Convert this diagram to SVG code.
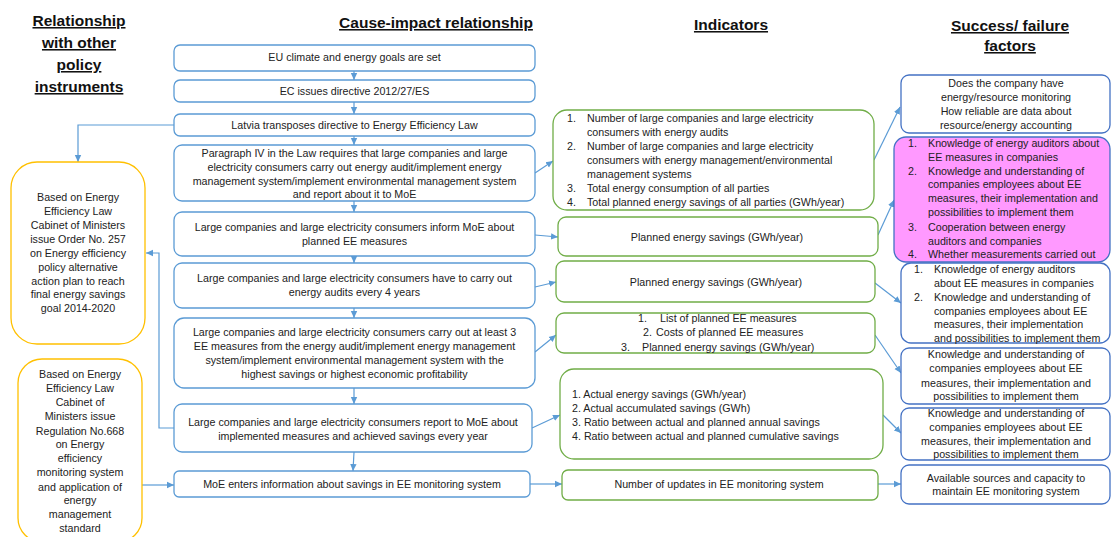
<svg xmlns="http://www.w3.org/2000/svg" width="1112" height="537" viewBox="0 0 1112 537">
  <style>
    text { font-family: "Liberation Sans", Arial, sans-serif; font-size: 10.7px; fill: #222; }
    .h { font-size: 15.5px; font-weight: bold; text-decoration: underline; text-anchor: middle; fill: #111; }
    .c { text-anchor: middle; }
    .cause { fill: #fff; stroke: #5B9BD5; stroke-width: 1.3; }
    .ind { fill: #fff; stroke: #70AD47; stroke-width: 1.3; }
    .fac { fill: #fff; stroke: #4472C4; stroke-width: 1.3; }
    .pink { fill: #FF99FF; stroke: #4472C4; stroke-width: 1.3; }
    .pol { fill: #fff; stroke: #FFC000; stroke-width: 1.3; }
    .conn path { fill: none; stroke: #5B9BD5; stroke-width: 1.2; marker-end: url(#arr); }
  </style>
  <defs>
    <marker id="arr" markerUnits="userSpaceOnUse" markerWidth="8" markerHeight="8" refX="7" refY="4" orient="auto">
      <path d="M0,0.8 L7,4 L0,7.2 Z" fill="#5B9BD5"/>
    </marker>
  </defs>
  <rect width="1112" height="537" fill="#fff"/>

  <!-- column headings -->
  <g id="headings">
    <text class="h" x="79" y="26">Relationship</text>
    <text class="h" x="79" y="48">with other</text>
    <text class="h" x="79" y="70">policy</text>
    <text class="h" x="79" y="92">instruments</text>
    <text class="h" x="436" y="28">Cause-impact relationship</text>
    <text class="h" x="731" y="30">Indicators</text>
    <text class="h" x="1010" y="31">Success/ failure</text>
    <text class="h" x="1010" y="51">factors</text>
  </g>

  <!-- connectors -->
  <g id="connectors" class="conn">
    <path d="M354,71 V80"/>
    <path d="M354,102 V114"/>
    <path d="M354,136 V145"/>
    <path d="M354,201 V212"/>
    <path d="M354,256 V263"/>
    <path d="M354,308 V318"/>
    <path d="M354,388 V404"/>
    <path d="M354,452 L353,471"/>
    <path d="M174,125 H78 V162"/>
    <path d="M174,428 H159 V253 H146"/>
    <path d="M142,485 H174"/>
    <path d="M535,173 L553,161"/>
    <path d="M535,235 L558,237"/>
    <path d="M535,287 L556,282"/>
    <path d="M535,352 L556,335"/>
    <path d="M532,428 L560,415"/>
    <path d="M530,484 H562"/>
    <path d="M874,160 L900,107"/>
    <path d="M878,235 L894,200"/>
    <path d="M875,283 L901,303"/>
    <path d="M875,335 L901,373"/>
    <path d="M883,415 L901,433"/>
    <path d="M878,484 H901"/>
  </g>

  <!-- cause-impact chain -->
  <g id="c1">
    <rect class="cause" x="174" y="45" width="361" height="26" rx="6"/>
    <text class="c" x="354.5" y="61">EU climate and energy goals are set</text>
  </g>
  <g id="c2">
    <rect class="cause" x="174" y="80" width="361" height="22" rx="6"/>
    <text class="c" x="354.5" y="95">EC issues directive 2012/27/ES</text>
  </g>
  <g id="c3">
    <rect class="cause" x="174" y="114" width="361" height="22" rx="6"/>
    <text class="c" x="354.5" y="129">Latvia transposes directive to Energy Efficiency Law</text>
  </g>
  <g id="c4">
    <rect class="cause" x="174" y="145" width="361" height="56" rx="8"/>
    <text class="c" x="354.5" y="157">Paragraph IV in the Law requires that large companies and large</text>
    <text class="c" x="354.5" y="171">electricity consumers carry out energy audit/implement energy</text>
    <text class="c" x="354.5" y="185">management system/implement environmental management system</text>
    <text class="c" x="354.5" y="198">and report about it to MoE</text>
  </g>
  <g id="c5">
    <rect class="cause" x="174" y="212" width="361" height="44" rx="8"/>
    <text class="c" x="354.5" y="231">Large companies and large electricity consumers inform MoE about</text>
    <text class="c" x="354.5" y="245">planned EE measures</text>
  </g>
  <g id="c6">
    <rect class="cause" x="174" y="263" width="361" height="45" rx="8"/>
    <text class="c" x="354.5" y="282">Large companies and large electricity consumers have to carry out</text>
    <text class="c" x="354.5" y="296">energy audits every 4 years</text>
  </g>
  <g id="c7">
    <rect class="cause" x="174" y="318" width="361" height="70" rx="10"/>
    <text class="c" x="354.5" y="336">Large companies and large electricity consumers carry out at least 3</text>
    <text class="c" x="354.5" y="350">EE measures from the energy audit/implement energy management</text>
    <text class="c" x="354.5" y="364">system/implement environmental management system with the</text>
    <text class="c" x="354.5" y="378">highest savings or highest economic profitability</text>
  </g>
  <g id="c8">
    <rect class="cause" x="174" y="404" width="358" height="48" rx="8"/>
    <text class="c" x="353" y="426">Large companies and large electricity consumers report to MoE about</text>
    <text class="c" x="353" y="440">implemented measures and achieved savings every year</text>
  </g>
  <g id="c9">
    <rect class="cause" x="174" y="471" width="356" height="26" rx="5"/>
    <text class="c" x="352" y="488">MoE enters information about savings in EE monitoring system</text>
  </g>

  <!-- other policy instruments -->
  <g id="p1">
    <rect class="pol" x="11" y="162" width="134" height="182" rx="26"/>
    <text class="c" x="78" y="201">Based on Energy</text>
    <text class="c" x="78" y="215">Efficiency Law</text>
    <text class="c" x="78" y="229">Cabinet of Ministers</text>
    <text class="c" x="78" y="243">issue Order No. 257</text>
    <text class="c" x="78" y="257">on Energy efficiency</text>
    <text class="c" x="78" y="271">policy alternative</text>
    <text class="c" x="78" y="285">action plan to reach</text>
    <text class="c" x="78" y="298">final energy savings</text>
    <text class="c" x="78" y="312">goal 2014-2020</text>
  </g>
  <g id="p2">
    <rect class="pol" x="18" y="359" width="124" height="183" rx="24"/>
    <text class="c" x="80" y="378">Based on Energy</text>
    <text class="c" x="80" y="392">Efficiency Law</text>
    <text class="c" x="80" y="406">Cabinet of</text>
    <text class="c" x="80" y="420">Ministers issue</text>
    <text class="c" x="80" y="435">Regulation No.668</text>
    <text class="c" x="80" y="448">on Energy</text>
    <text class="c" x="80" y="462">efficiency</text>
    <text class="c" x="80" y="476">monitoring system</text>
    <text class="c" x="80" y="491">and application of</text>
    <text class="c" x="80" y="504">energy</text>
    <text class="c" x="80" y="518">management</text>
    <text class="c" x="80" y="532">standard</text>
  </g>

  <!-- indicators -->
  <g id="i1">
    <rect class="ind" x="553" y="110" width="321" height="100" rx="14"/>
    <text x="567" y="122">1.</text><text x="587" y="122">Number of large companies and large electricity</text>
    <text x="587" y="136">consumers with energy audits</text>
    <text x="567" y="150">2.</text><text x="587" y="150">Number of large companies and large electricity</text>
    <text x="587" y="164">consumers with energy management/environmental</text>
    <text x="587" y="178">management systems</text>
    <text x="567" y="192">3.</text><text x="587" y="192">Total energy consumption of all parties</text>
    <text x="567" y="206">4.</text><text x="587" y="206">Total planned energy savings of all parties (GWh/year)</text>
  </g>
  <g id="i2">
    <rect class="ind" x="558" y="217" width="320" height="39" rx="8"/>
    <text class="c" x="717" y="241">Planned energy savings (GWh/year)</text>
  </g>
  <g id="i3">
    <rect class="ind" x="556" y="261" width="319" height="41" rx="8"/>
    <text class="c" x="716" y="286">Planned energy savings (GWh/year)</text>
  </g>
  <g id="i4">
    <rect class="ind" x="556" y="313" width="319" height="40" rx="8"/>
    <text x="638" y="322">1.</text><text x="660" y="322">List of planned EE measures</text>
    <text x="643" y="336">2.</text><text x="656" y="336">Costs of planned EE measures</text>
    <text x="621" y="351">3.</text><text x="642" y="351">Planned energy savings (GWh/year)</text>
  </g>
  <g id="i5">
    <rect class="ind" x="560" y="369" width="323" height="90" rx="14"/>
    <text x="572" y="398">1. Actual energy savings (GWh/year)</text>
    <text x="572" y="412">2. Actual accumulated savings (GWh)</text>
    <text x="572" y="426">3. Ratio between actual and planned annual savings</text>
    <text x="572" y="440">4. Ratio between actual and planned cumulative savings</text>
  </g>
  <g id="i6">
    <rect class="ind" x="562" y="470" width="316" height="30" rx="6"/>
    <text class="c" x="719" y="488">Number of updates in EE monitoring system</text>
  </g>

  <!-- success / failure factors -->
  <g id="f1">
    <rect class="fac" x="901" y="75" width="209" height="58" rx="8"/>
    <text class="c" x="1006" y="87">Does the company have</text>
    <text class="c" x="1006" y="101">energy/resource monitoring</text>
    <text class="c" x="1006" y="115">How reliable are data about</text>
    <text class="c" x="1006" y="129">resource/energy accounting</text>
  </g>
  <g id="f2">
    <rect class="pink" x="894" y="137" width="216" height="125" rx="12"/>
    <text x="908" y="147">1.</text><text x="928" y="147">Knowledge of energy auditors about</text>
    <text x="928" y="161">EE measures in companies</text>
    <text x="908" y="175">2.</text><text x="928" y="175">Knowledge and understanding of</text>
    <text x="928" y="188">companies employees about EE</text>
    <text x="928" y="202">measures, their implementation and</text>
    <text x="928" y="216">possibilities to implement them</text>
    <text x="908" y="231">3.</text><text x="928" y="231">Cooperation between energy</text>
    <text x="928" y="245">auditors and companies</text>
    <text x="908" y="258">4.</text><text x="928" y="258">Whether measurements carried out</text>
  </g>
  <g id="f3">
    <rect class="fac" x="901" y="263" width="209" height="80" rx="10"/>
    <text x="914" y="273">1.</text><text x="934" y="273">Knowledge of energy auditors</text>
    <text x="934" y="287">about EE measures in companies</text>
    <text x="914" y="301">2.</text><text x="934" y="301">Knowledge and understanding of</text>
    <text x="934" y="315">companies employees about EE</text>
    <text x="934" y="328">measures, their implementation</text>
    <text x="934" y="342">and possibilities to implement them</text>
  </g>
  <g id="f4">
    <rect class="fac" x="901" y="348" width="209" height="56" rx="8"/>
    <text class="c" x="1006" y="358">Knowledge and understanding of</text>
    <text class="c" x="1006" y="372">companies employees about EE</text>
    <text class="c" x="1006" y="387">measures, their implementation and</text>
    <text class="c" x="1006" y="400">possibilities to implement them</text>
  </g>
  <g id="f5">
    <rect class="fac" x="901" y="408" width="209" height="52" rx="8"/>
    <text class="c" x="1006" y="417">Knowledge and understanding of</text>
    <text class="c" x="1006" y="431">companies employees about EE</text>
    <text class="c" x="1006" y="445">measures, their implementation and</text>
    <text class="c" x="1006" y="458">possibilities to implement them</text>
  </g>
  <g id="f6">
    <rect class="fac" x="901" y="465" width="209" height="39" rx="8"/>
    <text class="c" x="1006" y="482">Available sources and capacity to</text>
    <text class="c" x="1006" y="495">maintain EE monitoring system</text>
  </g>
</svg>
